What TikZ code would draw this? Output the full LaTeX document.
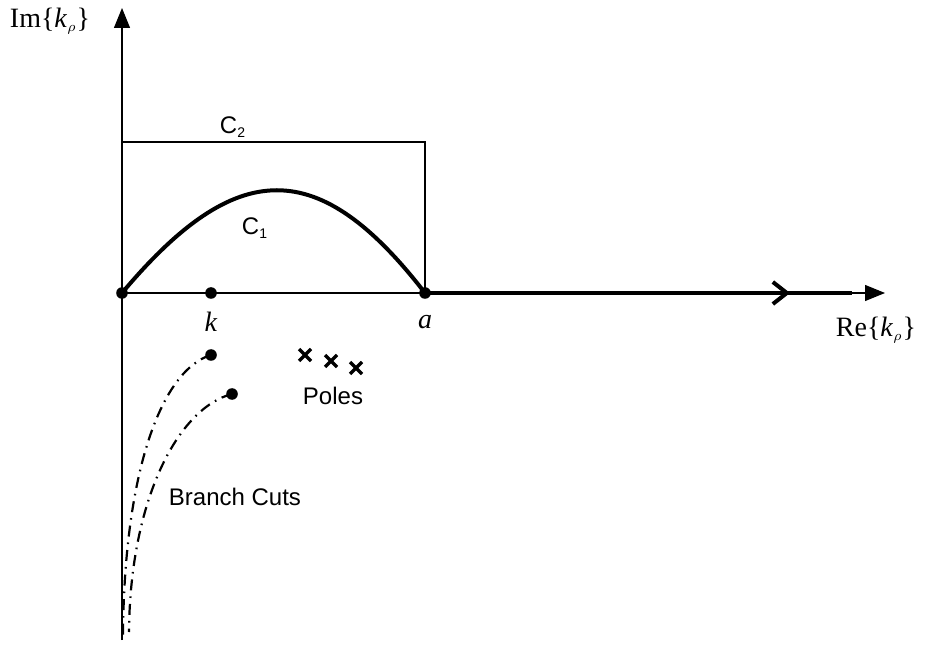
\documentclass[tikz,border=0pt]{standalone}
\usepackage{fontspec}
\setmainfont{Liberation Serif}
\newfontfamily\labelfont{Liberation Sans}
\usepackage{tikz}
\usetikzlibrary{arrows.meta, decorations.markings}

\begin{document}
\begin{tikzpicture}[
            x=0.5pt, y=-0.5pt,
            axis/.style={
                draw,
                line width=0.6pt,
                -{Triangle[length=10pt, width=8pt]}
            },
            dot/.style={
                circle,
                fill=black,
                inner sep=0pt,
                minimum size=5.8pt
            },
            contour/.style={
                draw,
                line width=0.9pt
            },
            thickpath/.style={
                draw,
                line width=2pt
            },
            cut/.style={
                draw,
                line width=1.1pt,
                dash pattern=on 5.5pt off 3pt on 0.8pt off 3pt
            },
            pole/.style={
                draw,
                line width=1.6pt
            },
            mathlabel/.style={font=\fontsize{14}{16}\selectfont},
            sanslabel/.style={font=\labelfont\fontsize{12}{14}\selectfont}
        ]
            \useasboundingbox (0,0) rectangle (931,646);

            % --- EJES ---
            \coordinate (ybot) at (122,640);
            \coordinate (ytop) at (122,8);
            \coordinate (xend) at (885,293);
            \coordinate (xmid) at (852,293);
            \path [axis] (ybot) -- (ytop);

            % --- PUNTOS ---
            \node [dot] (orig) at (122,293) {};
            \node [dot] (kpt) at (211,293) {};
            \node [dot] (apt) at (425,293) {};
            \node [dot] (cut1) at (211,355) {};
            \node [dot] (cut2) at (232,394) {};

            \path [axis] (orig.center) -- (xend);

            % --- CONTORNOS ---
            \coordinate (c2l) at (122,142);
            \coordinate (c2r) at (425,142);
            \path [contour] (orig.center) -- (c2l) -- (c2r) -- (apt.center);
            \path [thickpath] (orig.center) .. controls (237,156) and (319,156) .. (apt.center);
            \path [thickpath, decoration={markings, mark=at position 0.855 with {\arrow{Straight Barb[length=7pt, width=11pt, line width=2pt]}}}, postaction={decorate}]
                (apt.center) -- (xmid);

            % --- CORTES DE RAMA ---
            \coordinate (cut1end) at (123,636);
            \coordinate (cut2end) at (129,632);
            \path [cut] (cut1.center) .. controls (162,370) and (124,470) .. (cut1end);
            \path [cut] (cut2.center) .. controls (178,408) and (130,500) .. (cut2end);

            % --- POLOS ---
            \foreach \px/\py [count=\i] in {305/355, 331/361, 356/368}{
                \path [pole] (\px-6,\py-6) -- (\px+6,\py+6) (\px-6,\py+6) -- (\px+6,\py-6);
            }

            % --- ETIQUETAS ---
            \node [mathlabel] (imlab) at (50,21) {Im\{\textit{k}$_{\scriptscriptstyle\rho}$\}};
            \node [mathlabel] (relab) at (876,330) {Re\{\textit{k}$_{\scriptscriptstyle\rho}$\}};
            \node [mathlabel] (klab) at (211,322) {\textit{k}};
            \node [mathlabel] (alab) at (425,322) {\textit{a}};
            \node [sanslabel] (c2lab) at (233,127) {C\textsubscript{\scriptsize 2}};
            \node [sanslabel] (c1lab) at (255,228) {C\textsubscript{\scriptsize 1}};
            \node [sanslabel] (poleslab) at (333,396) {Poles};
            \node [sanslabel] (cutslab) at (235,497) {Branch Cuts};
        \end{tikzpicture}
\end{document}
